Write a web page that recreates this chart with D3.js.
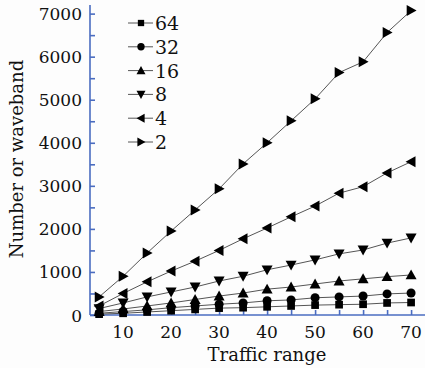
<!DOCTYPE html>
<html>
<head>
<meta charset="utf-8">
<script src="https://cdn.jsdelivr.net/npm/d3@7"></script>
<style>
  html, body { margin: 0; padding: 0; background: #fdfdfd; }
  svg { display: block; }
</style>
</head>
<body>
<div id="chart"></div>
<script>
(function () {
  'use strict';

  /* ── Data ── */
  var traffic = [5, 10, 15, 20, 25, 30, 35, 40, 45, 50, 55, 60, 65, 70];
  var seriesNames = ['64', '32', '16', '8', '4', '2'];
  var v64 = [20, 40, 70, 100, 130, 160, 170, 190, 210, 230, 240, 250, 280, 290];
  var v32 = [40, 80, 120, 170, 210, 250, 280, 330, 350, 400, 420, 440, 490, 510];
  var v16 = [80, 140, 210, 280, 360, 440, 510, 600, 650, 720, 790, 840, 890, 930];
  var v8 = [150, 280, 420, 535, 650, 790, 900, 1050, 1160, 1280, 1420, 1510, 1670, 1790];
  var v4 = [210, 500, 770, 1020, 1250, 1500, 1770, 2020, 2280, 2530, 2830, 2980, 3300, 3560];
  var v2 = [420, 900, 1440, 1950, 2440, 2930, 3510, 4000, 4510, 5020, 5630, 5880, 6560, 7070];
  var xTicks = [10, 20, 30, 40, 50, 60, 70];
  var yTicks = [0, 1000, 2000, 3000, 4000, 5000, 6000, 7000];

  var values = [v64, v32, v16, v8, v4, v2];
  var symbols = ['square', 'circle', 'up', 'down', 'left', 'right'];

  var W = 425, H = 368;
  var FONT = '"DejaVu Serif", serif';
  var AXIS = '#4a6cc0';

  var svg = d3.select('#chart').append('svg')
    .attr('width', W).attr('height', H);

  var x = d3.scaleLinear().domain([3.1, 72.9]).range([90, 425]);
  var y = d3.scaleLinear().domain([0, 7200]).range([315, 5]);

  /* ── Axes ── */
  var gx = svg.append('g').attr('transform', 'translate(0,315)')
    .call(d3.axisBottom(x).tickValues(d3.range(5, 71, 5)).tickSize(-5).tickFormat(''));
  var gy = svg.append('g').attr('transform', 'translate(90,0)')
    .call(d3.axisLeft(y).tickValues(d3.range(0, 7001, 500)).tickSize(-5).tickFormat(''));
  [gx, gy].forEach(function (g) {
    g.selectAll('path, line').attr('stroke', AXIS).attr('stroke-width', 1.6);
  });
  gx.select('.domain').attr('d', 'M90,0H425');
  gy.select('.domain').attr('d', 'M0,5V315');

  svg.append('g').selectAll('text')
    .data(xTicks).join('text')
    .attr('x', function (d) { return x(d); })
    .attr('y', 338)
    .attr('text-anchor', 'middle')
    .attr('font-family', FONT).attr('font-size', 17).attr('fill', '#111')
    .text(function (d) { return d; });

  svg.append('g').selectAll('text')
    .data(yTicks).join('text')
    .attr('x', 82)
    .attr('y', function (d) { return y(d) + 6.5; })
    .attr('text-anchor', 'end')
    .attr('font-family', FONT).attr('font-size', 17).attr('fill', '#111')
    .text(function (d) { return d; });

  svg.append('text')
    .attr('x', 267).attr('y', 361)
    .attr('text-anchor', 'middle')
    .attr('font-family', FONT).attr('font-size', 18).attr('fill', '#111')
    .text('Traffic range');

  svg.append('text')
    .attr('transform', 'translate(23,159) rotate(-90)')
    .attr('text-anchor', 'middle')
    .attr('font-family', FONT).attr('font-size', 18).attr('fill', '#111')
    .text('Number or waveband');

  /* ── Markers ── */
  function marker(g, kind, r) {
    if (kind === 'square') {
      g.append('rect').attr('x', -r * 0.7).attr('y', -r * 0.7)
        .attr('width', r * 1.4).attr('height', r * 1.4);
    } else if (kind === 'circle') {
      g.append('circle').attr('r', r * 0.82);
    } else {
      var pts = {
        up: [[0, -r], [r, r * 0.8], [-r, r * 0.8]],
        down: [[0, r], [r, -r * 0.8], [-r, -r * 0.8]],
        left: [[-r, 0], [r * 0.8, -r], [r * 0.8, r]],
        right: [[r, 0], [-r * 0.8, -r], [-r * 0.8, r]]
      }[kind];
      g.append('path').attr('d', 'M' + pts.join('L') + 'Z');
    }
  }

  var line = d3.line()
    .x(function (d, i) { return x(traffic[i]); })
    .y(function (d) { return y(d); });

  var plot = svg.append('g');
  values.forEach(function (vals) {
    plot.append('path')
      .attr('d', line(vals))
      .attr('fill', 'none')
      .attr('stroke', '#555')
      .attr('stroke-width', 1);
  });
  values.forEach(function (vals, s) {
    vals.forEach(function (v, i) {
      var g = plot.append('g')
        .attr('transform', 'translate(' + x(traffic[i]) + ',' + y(v) + ')')
        .attr('fill', '#000');
      marker(g, symbols[s], 5.5);
    });
  });

  /* ── Legend ── */
  var leg = svg.append('g');
  seriesNames.forEach(function (name, i) {
    var ly = 23 + i * 23.8;
    leg.append('line')
      .attr('x1', 128).attr('x2', 153)
      .attr('y1', ly).attr('y2', ly)
      .attr('stroke', '#555').attr('stroke-width', 1);
    var g = leg.append('g').attr('transform', 'translate(141,' + ly + ')').attr('fill', '#000');
    marker(g, symbols[i], 4.5);
    leg.append('text')
      .attr('x', 155).attr('y', ly + 7)
      .attr('font-family', FONT).attr('font-size', 19).attr('fill', '#111')
      .text(name);
  });
})();
</script>
</body>
</html>
